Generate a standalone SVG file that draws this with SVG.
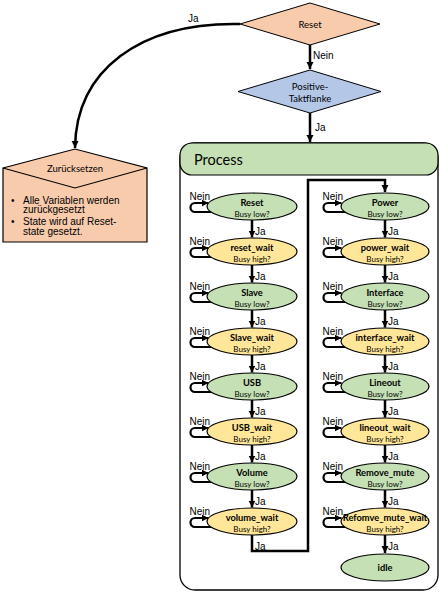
<svg xmlns="http://www.w3.org/2000/svg" width="441" height="593" viewBox="0 0 441 593">
<style>
.lbl{font-family:"Liberation Sans",Arial,sans-serif;font-size:10px;fill:#000}
.bl{font-family:"Liberation Sans",Arial,sans-serif;font-size:10px;fill:#000}
.c{font-family:Lato,"Open Sans",sans-serif;fill:#000;text-anchor:middle}
.name{font-size:9.3px;font-weight:bold}
.sub{font-size:8px}
.g{fill:#C5E0B4;stroke:#000;stroke-width:1.2}
.y{fill:#FFE699;stroke:#000;stroke-width:1.2}
.ln{fill:none;stroke:#000;stroke-width:2.5}
.lp{fill:none;stroke:#000;stroke-width:2.2}
</style>
<defs>
<marker id="ah" markerUnits="userSpaceOnUse" markerWidth="8" markerHeight="8" refX="7" refY="3.5" orient="auto"><path d="M0,0 L7,3.5 L0,7 z" fill="#000"/></marker>
</defs>
<rect width="441" height="593" fill="#fff"/>

<g id="reset-diamond">
<polygon points="240,24 310,3 380,24 310,45" fill="#F8CBAD" stroke="#000" stroke-width="1"/>
<text class="c" x="310" y="27.5" font-size="9.5">Reset</text>
</g>
<g id="taktflanke">
<polygon points="238,91.5 310,70 381,91.5 310,113" fill="#B4C7E7" stroke="#000" stroke-width="1"/>
<text class="c" x="310" y="90" font-size="9.5">Positive-</text>
<text class="c" x="310" y="102" font-size="9.5">Taktflanke</text>
</g>
<g id="zuruecksetzen">
<polygon points="3,168 75,149 147,168 147,242 3,242" fill="#F8CBAD" stroke="#000" stroke-width="1.2"/>
<polyline points="3,168 75,188 147,168" fill="none" stroke="#000" stroke-width="1.2"/>
<text class="c" x="75" y="172" font-size="9.5">Zurücksetzen</text>
<text class="bl" x="11" y="203.5">•</text>
<text class="bl" x="23" y="203.5">Alle Variablen werden</text>
<text class="bl" x="23" y="213">zurückgesetzt</text>
<text class="bl" x="11" y="224.5">•</text>
<text class="bl" x="23" y="224.5">State wird auf Reset-</text>
<text class="bl" x="23" y="234.5">state gesetzt.</text>
</g>
<g id="process">
<rect x="180" y="143" width="258" height="447" rx="15" fill="#fff" stroke="#000" stroke-width="1.3"/>
<rect x="180" y="143" width="258" height="32" rx="12" fill="#C5E0B4" stroke="#000" stroke-width="1.2"/>
<text x="194" y="165" font-family="Lato,'Open Sans',sans-serif" font-size="14.5">Process</text>
</g>

<g id="connectors">
<path class="ln" d="M310,45 V69" marker-end="url(#ah)"/>
<text class="lbl" x="313" y="59">Nein</text>
<path class="ln" d="M310,113 V142" marker-end="url(#ah)"/>
<text class="lbl" x="315" y="131">Ja</text>
<path class="ln" d="M240,24 C140,22 76,70 75,148" marker-end="url(#ah)"/>
<text class="lbl" x="188" y="22">Ja</text>
<!-- left column -->
<path class="ln" d="M252,219.5 V237.5" marker-end="url(#ah)"/><text class="lbl" x="255" y="235">Ja</text>
<path class="ln" d="M252,264.5 V282.5" marker-end="url(#ah)"/><text class="lbl" x="255" y="280">Ja</text>
<path class="ln" d="M252,309.5 V327.5" marker-end="url(#ah)"/><text class="lbl" x="255" y="325">Ja</text>
<path class="ln" d="M252,354.5 V372.5" marker-end="url(#ah)"/><text class="lbl" x="255" y="370">Ja</text>
<path class="ln" d="M252,399.5 V417.5" marker-end="url(#ah)"/><text class="lbl" x="255" y="415">Ja</text>
<path class="ln" d="M252,444.5 V462.5" marker-end="url(#ah)"/><text class="lbl" x="255" y="460">Ja</text>
<path class="ln" d="M252,489.5 V507.5" marker-end="url(#ah)"/><text class="lbl" x="255" y="505">Ja</text>
<path class="ln" d="M252,534.5 V551 H308 V180 H385 V192" marker-end="url(#ah)"/><text class="lbl" x="255" y="549.5">Ja</text>
<!-- right column -->
<path class="ln" d="M385,219.5 V237.5" marker-end="url(#ah)"/><text class="lbl" x="388" y="235">Ja</text>
<path class="ln" d="M385,264.5 V282.5" marker-end="url(#ah)"/><text class="lbl" x="388" y="280">Ja</text>
<path class="ln" d="M385,309.5 V327.5" marker-end="url(#ah)"/><text class="lbl" x="388" y="325">Ja</text>
<path class="ln" d="M385,354.5 V372.5" marker-end="url(#ah)"/><text class="lbl" x="388" y="370">Ja</text>
<path class="ln" d="M385,399.5 V417.5" marker-end="url(#ah)"/><text class="lbl" x="388" y="415">Ja</text>
<path class="ln" d="M385,444.5 V462.5" marker-end="url(#ah)"/><text class="lbl" x="388" y="460">Ja</text>
<path class="ln" d="M385,489.5 V507.5" marker-end="url(#ah)"/><text class="lbl" x="388" y="505">Ja</text>
<path class="ln" d="M385,534.5 V553" marker-end="url(#ah)"/><text class="lbl" x="388" y="549.5">Ja</text>
<!-- loops left -->
<path class="lp" d="M212,212 H195 A4.5,4.5 0 0 1 195,203 H208.5" marker-end="url(#ah)"/><text class="lbl" x="189.5" y="199.5">Nein</text>
<path class="lp" d="M212,257 H195 A4.5,4.5 0 0 1 195,248 H208.5" marker-end="url(#ah)"/><text class="lbl" x="189.5" y="244.5">Nein</text>
<path class="lp" d="M212,302 H195 A4.5,4.5 0 0 1 195,293 H208.5" marker-end="url(#ah)"/><text class="lbl" x="189.5" y="289.5">Nein</text>
<path class="lp" d="M212,347 H195 A4.5,4.5 0 0 1 195,338 H208.5" marker-end="url(#ah)"/><text class="lbl" x="189.5" y="334.5">Nein</text>
<path class="lp" d="M212,392 H195 A4.5,4.5 0 0 1 195,383 H208.5" marker-end="url(#ah)"/><text class="lbl" x="189.5" y="379.5">Nein</text>
<path class="lp" d="M212,437 H195 A4.5,4.5 0 0 1 195,428 H208.5" marker-end="url(#ah)"/><text class="lbl" x="189.5" y="424.5">Nein</text>
<path class="lp" d="M212,482 H195 A4.5,4.5 0 0 1 195,473 H208.5" marker-end="url(#ah)"/><text class="lbl" x="189.5" y="469.5">Nein</text>
<path class="lp" d="M212,527 H195 A4.5,4.5 0 0 1 195,518 H208.5" marker-end="url(#ah)"/><text class="lbl" x="189.5" y="514.5">Nein</text>
<!-- loops right -->
<path class="lp" d="M345,212 H328 A4.5,4.5 0 0 1 328,203 H341.5" marker-end="url(#ah)"/><text class="lbl" x="322.5" y="199.5">Nein</text>
<path class="lp" d="M345,257 H328 A4.5,4.5 0 0 1 328,248 H341.5" marker-end="url(#ah)"/><text class="lbl" x="322.5" y="244.5">Nein</text>
<path class="lp" d="M345,302 H328 A4.5,4.5 0 0 1 328,293 H341.5" marker-end="url(#ah)"/><text class="lbl" x="322.5" y="289.5">Nein</text>
<path class="lp" d="M345,347 H328 A4.5,4.5 0 0 1 328,338 H341.5" marker-end="url(#ah)"/><text class="lbl" x="322.5" y="334.5">Nein</text>
<path class="lp" d="M345,392 H328 A4.5,4.5 0 0 1 328,383 H341.5" marker-end="url(#ah)"/><text class="lbl" x="322.5" y="379.5">Nein</text>
<path class="lp" d="M345,437 H328 A4.5,4.5 0 0 1 328,428 H341.5" marker-end="url(#ah)"/><text class="lbl" x="322.5" y="424.5">Nein</text>
<path class="lp" d="M345,482 H328 A4.5,4.5 0 0 1 328,473 H341.5" marker-end="url(#ah)"/><text class="lbl" x="322.5" y="469.5">Nein</text>
<path class="lp" d="M345,527 H328 A4.5,4.5 0 0 1 328,518 H341.5" marker-end="url(#ah)"/><text class="lbl" x="322.5" y="514.5">Nein</text>
</g>

<g id="n-reset"><ellipse class="g" cx="252" cy="206.5" rx="45" ry="13.5"/><text class="c name" x="252" y="206">Reset</text><text class="c sub" x="252" y="217">Busy low?</text></g>
<g id="n-reset_wait"><ellipse class="y" cx="252" cy="251.5" rx="45" ry="13.5"/><text class="c name" x="252" y="251">reset_wait</text><text class="c sub" x="252" y="262">Busy high?</text></g>
<g id="n-slave"><ellipse class="g" cx="252" cy="296.5" rx="45" ry="13.5"/><text class="c name" x="252" y="296">Slave</text><text class="c sub" x="252" y="307">Busy low?</text></g>
<g id="n-slave_wait"><ellipse class="y" cx="252" cy="341.5" rx="45" ry="13.5"/><text class="c name" x="252" y="341">Slave_wait</text><text class="c sub" x="252" y="352">Busy high?</text></g>
<g id="n-usb"><ellipse class="g" cx="252" cy="386.5" rx="45" ry="13.5"/><text class="c name" x="252" y="386">USB</text><text class="c sub" x="252" y="397">Busy low?</text></g>
<g id="n-usb_wait"><ellipse class="y" cx="252" cy="431.5" rx="45" ry="13.5"/><text class="c name" x="252" y="431">USB_wait</text><text class="c sub" x="252" y="442">Busy high?</text></g>
<g id="n-volume"><ellipse class="g" cx="252" cy="476.5" rx="45" ry="13.5"/><text class="c name" x="252" y="476">Volume</text><text class="c sub" x="252" y="487">Busy low?</text></g>
<g id="n-volume_wait"><ellipse class="y" cx="252" cy="521.5" rx="45" ry="13.5"/><text class="c name" x="252" y="521">volume_wait</text><text class="c sub" x="252" y="532">Busy high?</text></g>

<g id="n-power"><ellipse class="g" cx="385" cy="206.5" rx="44" ry="13.5"/><text class="c name" x="385" y="206">Power</text><text class="c sub" x="385" y="217">Busy low?</text></g>
<g id="n-power_wait"><ellipse class="y" cx="385" cy="251.5" rx="44" ry="13.5"/><text class="c name" x="385" y="251">power_wait</text><text class="c sub" x="385" y="262">Busy high?</text></g>
<g id="n-interface"><ellipse class="g" cx="385" cy="296.5" rx="44" ry="13.5"/><text class="c name" x="385" y="296">Interface</text><text class="c sub" x="385" y="307">Busy low?</text></g>
<g id="n-interface_wait"><ellipse class="y" cx="385" cy="341.5" rx="44" ry="13.5"/><text class="c name" x="385" y="341">interface_wait</text><text class="c sub" x="385" y="352">Busy high?</text></g>
<g id="n-lineout"><ellipse class="g" cx="385" cy="386.5" rx="44" ry="13.5"/><text class="c name" x="385" y="386">Lineout</text><text class="c sub" x="385" y="397">Busy low?</text></g>
<g id="n-lineout_wait"><ellipse class="y" cx="385" cy="431.5" rx="44" ry="13.5"/><text class="c name" x="385" y="431">lineout_wait</text><text class="c sub" x="385" y="442">Busy high?</text></g>
<g id="n-remove_mute"><ellipse class="g" cx="385" cy="476.5" rx="44" ry="13.5"/><text class="c name" x="385" y="476">Remove_mute</text><text class="c sub" x="385" y="487">Busy low?</text></g>
<g id="n-refomve_mute_wait"><ellipse class="y" cx="385" cy="521.5" rx="44" ry="13.5"/><text class="c name" x="385" y="521" font-size="7px">Refomve_mute_wait</text><text class="c sub" x="385" y="532">Busy high?</text></g>
<g id="n-idle"><ellipse class="g" cx="385" cy="567.5" rx="44" ry="13.5"/><text class="c name" x="385" y="571" font-size="9.5px">idle</text></g>
</svg>
